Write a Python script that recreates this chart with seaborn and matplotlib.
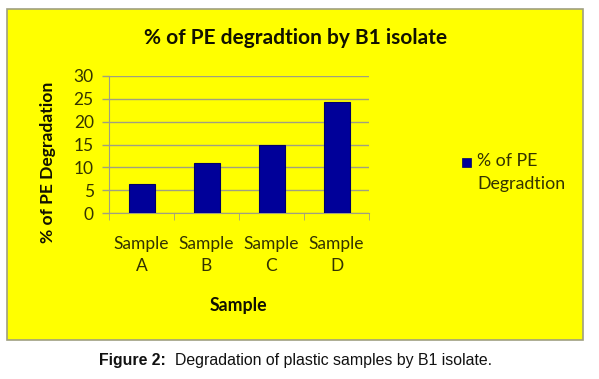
import matplotlib
matplotlib.use("Agg")
import matplotlib.pyplot as plt
import seaborn as sns
import pandas as pd
from matplotlib.patches import Rectangle

# ---- data ----
samples = ["Sample\nA", "Sample\nB", "Sample\nC", "Sample\nD"]
degradation = [6.4, 11.0, 14.9, 24.4]
series_name = "% of PE\nDegradtion"

df = pd.DataFrame({"Sample": samples, "deg": degradation})

sns.set_style("white")
plt.rcParams["font.family"] = ["Lato", "DejaVu Sans"]

yellow = "#FFFF00"
bar_col = "#000099"
txt_col = "#333300"
grid_col = "#a0a080"

fig = plt.figure(figsize=(5.99, 3.79), dpi=100)
fig.patch.set_facecolor("white")

# yellow chart area (behind the axes)
bg = Rectangle((7 / 599, 1 - 340 / 379), 576 / 599, 331 / 379,
               transform=fig.transFigure, facecolor=yellow,
               edgecolor="#a0a080", linewidth=1.2, zorder=-1)
fig.add_artist(bg)

ax = fig.add_axes([109 / 599, 1 - 213 / 379, 260 / 599, 137 / 379])
ax.set_facecolor("none")
sns.barplot(data=df, x="Sample", y="deg", color=bar_col, width=0.4,
            saturation=1, ax=ax, zorder=3, edgecolor="#000066", linewidth=0.8)

ax.set_ylim(0, 30)
ax.set_yticks(range(0, 31, 5))
ax.set_xlim(-0.5, 3.5)
ax.yaxis.grid(True, color=grid_col, linewidth=1)
ax.set_axisbelow(True)
for s in ["top", "right"]:
    ax.spines[s].set_visible(False)
ax.spines["left"].set_color(grid_col)
ax.spines["bottom"].set_color(grid_col)
ax.tick_params(axis="y", left=True, length=5, width=1, color=grid_col,
               labelsize=12.5, labelcolor=txt_col, pad=6)
ax.tick_params(axis="x", bottom=False, labelsize=12.5, labelcolor=txt_col, pad=13)
for lab in ax.get_xticklabels():
    lab.set_linespacing(1.45)
ax.set_xticks([-0.5, 0.5, 1.5, 2.5, 3.5], minor=True)
ax.tick_params(axis="x", which="minor", bottom=True, length=5, color=grid_col)
ax.set_xlabel("")
ax.set_ylabel("")

fig.text(296 / 599, 1 - 38 / 379, "% of PE degradtion by B1 isolate",
         ha="center", va="center", fontsize=15, fontweight="bold", color="#111100")
fig.text(48 / 599, 1 - 162 / 379, "% of PE Degradation", rotation=90,
         ha="center", va="center", fontsize=12.6, fontweight="bold", color="#111100")
fig.text(238 / 599, 1 - 306 / 379, "Sample", ha="center", va="center",
         fontsize=12.8, fontweight="bold", color="#111100")

# legend: marker next to first line of the label
fig.add_artist(Rectangle((462 / 599, 1 - 167 / 379), 9 / 599, 9 / 379,
                         transform=fig.transFigure, facecolor=bar_col,
                         edgecolor="#000066", linewidth=0.5))
fig.text(477 / 599, 1 - 153 / 379, series_name, ha="left", va="top",
         fontsize=12.8, color=txt_col, linespacing=1.55)

fig.text(99 / 599, 1 - 360 / 379, "Figure 2:", ha="left", va="center",
         fontsize=11.4, fontweight="bold", family="Liberation Sans", color="#111111")
fig.text(175 / 599, 1 - 360 / 379, "Degradation of plastic samples by B1 isolate.",
         ha="left", va="center", fontsize=11.4, family="Liberation Sans", color="#111111")

fig.savefig("out.png", dpi=100, facecolor="white")
